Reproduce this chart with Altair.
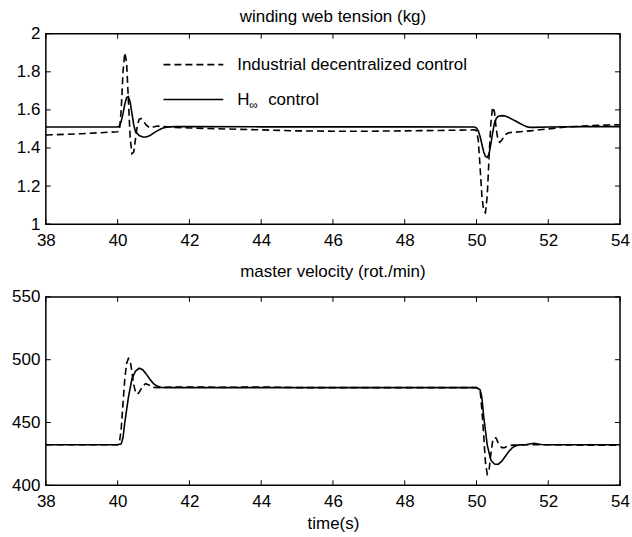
import altair as alt
import pandas as pd

FONT = "Liberation Sans"

# ---------------- data: winding web tension (kg) ----------------
t_ten_hinf = [38, 40.0, 40.05, 40.1, 40.15, 40.2, 40.25, 40.3, 40.35, 40.4, 40.45, 40.5,
              40.6, 40.7, 40.8, 40.9, 41.0, 41.1, 41.2, 41.3, 41.4, 41.6, 42, 44, 46, 48,
              49.95, 50.0, 50.05, 50.1, 50.15, 50.2, 50.25, 50.3, 50.35, 50.4, 50.45, 50.5,
              50.55, 50.6, 50.7, 50.8, 50.9, 51.0, 51.1, 51.2, 51.3, 51.4, 51.5, 51.6, 52, 53, 54]
v_ten_hinf = [1.51, 1.51, 1.515, 1.54, 1.58, 1.63, 1.665, 1.67, 1.64, 1.58, 1.52, 1.485,
              1.465, 1.458, 1.458, 1.465, 1.478, 1.49, 1.50, 1.507, 1.51, 1.512, 1.512, 1.511, 1.511, 1.511,
              1.51, 1.505, 1.49, 1.46, 1.42, 1.38, 1.355, 1.35, 1.37, 1.42, 1.48, 1.53,
              1.555, 1.565, 1.57, 1.568, 1.56, 1.55, 1.54, 1.53, 1.52, 1.512, 1.508, 1.508, 1.51, 1.512, 1.512]

t_ten_ind = [38, 39, 40.0, 40.05, 40.1, 40.15, 40.2, 40.25, 40.3, 40.35, 40.4, 40.45, 40.5,
             40.55, 40.6, 40.65, 40.7, 40.8, 40.9, 41.0, 41.1, 41.3, 41.6, 42, 43, 44, 45, 46,
             47, 48, 49, 49.95, 50.0, 50.05, 50.1, 50.15, 50.2, 50.25, 50.3, 50.35, 50.4, 50.45,
             50.5, 50.55, 50.6, 50.65, 50.7, 50.8, 50.9, 51.0, 51.2, 51.5, 52, 52.5, 53, 53.5, 54]
v_ten_ind = [1.468, 1.475, 1.485, 1.49, 1.6, 1.8, 1.9, 1.85, 1.65, 1.45, 1.37, 1.38, 1.45,
             1.52, 1.55, 1.555, 1.545, 1.52, 1.505, 1.51, 1.515, 1.513, 1.508, 1.505, 1.50, 1.495, 1.49, 1.488,
             1.488, 1.49, 1.492, 1.495, 1.49, 1.44, 1.30, 1.15, 1.07, 1.06, 1.15, 1.35, 1.53, 1.615,
             1.59, 1.50, 1.44, 1.43, 1.44, 1.47, 1.48, 1.482, 1.485, 1.49, 1.50, 1.51, 1.515, 1.52, 1.522]

# ---------------- data: master velocity (rot./min) ----------------
t_vel_hinf = [38, 40.0, 40.1, 40.15, 40.2, 40.3, 40.4, 40.5, 40.6, 40.7, 40.8, 40.9, 41.0,
              41.1, 41.2, 41.4, 42, 44, 46, 48, 50.0, 50.1, 50.15, 50.2, 50.3, 50.4, 50.5,
              50.6, 50.7, 50.8, 50.9, 51.0, 51.1, 51.2, 51.4, 51.6, 51.8, 52, 54]
v_vel_hinf = [432.3, 432.3, 433, 438, 450, 470, 485, 491, 493.2, 492, 488.5, 484.5, 481,
              479, 478, 477.8, 477.8, 477.8, 477.8, 477.8, 477.8, 476, 470, 455, 432, 420, 417,
              416.7, 419, 423, 427, 430, 431.5, 432.2, 432.5, 433.5, 432.5, 432.3, 432.3]

t_vel_ind = [38, 40.0, 40.05, 40.1, 40.15, 40.2, 40.25, 40.3, 40.35, 40.4, 40.45, 40.5, 40.55,
             40.6, 40.7, 40.78, 40.9, 41.0, 41.2, 41.5, 42, 43, 44, 45, 46, 48, 50.0, 50.1,
             50.15, 50.2, 50.25, 50.3, 50.35, 50.4, 50.45, 50.5, 50.55, 50.6, 50.7, 50.78,
             50.9, 51.0, 51.14, 51.5, 52, 53, 54]
v_vel_ind = [432.3, 432.3, 434, 445, 465, 485, 497, 501, 499, 490, 480, 474, 472.5,
             474, 479, 481, 479.5, 478, 477.8, 478.3, 478.3, 478.0, 478.3, 477.8, 477.8, 477.8, 477.8, 476,
             460, 440, 418, 409, 412, 425, 435, 438, 437.5, 434, 430, 430,
             431.5, 432, 432, 432.3, 432.3, 432.0, 432.0]

x_ticks = [38, 40, 42, 44, 46, 48, 50, 52, 54]
ten_ticks = [1.0, 1.2, 1.4, 1.6, 1.8, 2.0]
vel_ticks = [400, 450, 500, 550]

W = 576
H_TOP = 191
H_BOT = 189
TICK = 5


def panel(t_h, v_h, t_i, v_i, ydom, yticks, yfmt, height, xtitle=None):
    xscale = alt.Scale(domain=[38, 54], nice=False, zero=False)
    yscale = alt.Scale(domain=ydom, nice=False, zero=False)
    xaxis_args = dict(values=x_ticks, format="d", ticks=False, domain=False, grid=False,
                      labelPadding=8, labelFontSize=17, labelFont=FONT, labelColor="black",
                      labelOverlap=False, labelFlush=False, labelBound=False)
    if xtitle:
        xaxis_args.update(titleFontSize=17, titleFont=FONT, titleFontWeight="normal",
                          titlePadding=6, titleColor="black")
    xaxis = alt.Axis(**xaxis_args)
    yaxis = alt.Axis(values=yticks, format=yfmt, ticks=False, domain=False, grid=False,
                     labelPadding=6, labelFontSize=17, labelFont=FONT, labelColor="black",
                     labelOverlap=False, labelFlush=False, labelBound=False)
    xt = xtitle if xtitle else None

    def X(f):
        return alt.X(f, scale=xscale, axis=xaxis, title=xt)

    def Y(f):
        return alt.Y(f, scale=yscale, axis=yaxis, title=None)

    df_h = pd.DataFrame({"t": t_h, "v": v_h})
    df_i = pd.DataFrame({"t": t_i, "v": v_i})

    solid = alt.Chart(df_h).mark_line(color="black", strokeWidth=1.6).encode(
        x=X("t:Q"), y=Y("v:Q"), order="t:Q")
    dashed = alt.Chart(df_i).mark_line(color="black", strokeWidth=1.6,
                                       strokeDash=[7, 4]).encode(
        x=X("t:Q"), y=Y("v:Q"), order="t:Q")

    dfx = pd.DataFrame({"t": x_ticks})
    dfy = pd.DataFrame({"v": yticks})
    tick_b = alt.Chart(dfx).mark_rule(color="black", strokeWidth=1).encode(
        x=X("t:Q"), y=alt.value(height), y2=alt.value(height - TICK))
    tick_t = alt.Chart(dfx).mark_rule(color="black", strokeWidth=1).encode(
        x=X("t:Q"), y=alt.value(0), y2=alt.value(TICK))
    tick_l = alt.Chart(dfy).mark_rule(color="black", strokeWidth=1).encode(
        y=Y("v:Q"), x=alt.value(0), x2=alt.value(TICK))
    tick_r = alt.Chart(dfy).mark_rule(color="black", strokeWidth=1).encode(
        y=Y("v:Q"), x=alt.value(W), x2=alt.value(W - TICK))

    return [dashed, solid, tick_b, tick_t, tick_l, tick_r]


top_layers = panel(t_ten_hinf, v_ten_hinf, t_ten_ind, v_ten_ind, [1, 2], ten_ticks, ".1~f", H_TOP)

# legend (inside top panel)
leg_df = pd.DataFrame({"k": [0]})
leg_dash = alt.Chart(leg_df).mark_rule(color="black", strokeWidth=1.6, strokeDash=[7, 4]).encode(
    x=alt.value(118), x2=alt.value(178), y=alt.value(31))
leg_sol = alt.Chart(leg_df).mark_rule(color="black", strokeWidth=1.6).encode(
    x=alt.value(118), x2=alt.value(178), y=alt.value(66))
leg_t1 = alt.Chart(pd.DataFrame({"s": ["Industrial decentralized control"]})).mark_text(
    align="left", baseline="middle", fontSize=17, font=FONT, color="black").encode(
    x=alt.value(192), y=alt.value(31), text="s:N")
leg_t2 = alt.Chart(pd.DataFrame({"s": ["H"]})).mark_text(
    align="left", baseline="middle", fontSize=17, font=FONT, color="black").encode(
    x=alt.value(192), y=alt.value(66), text="s:N")
leg_t3 = alt.Chart(pd.DataFrame({"s": ["∞"]})).mark_text(
    align="left", baseline="middle", fontSize=12, font=FONT, color="black").encode(
    x=alt.value(204), y=alt.value(71), text="s:N")
leg_t4 = alt.Chart(pd.DataFrame({"s": ["control"]})).mark_text(
    align="left", baseline="middle", fontSize=17, font=FONT, color="black").encode(
    x=alt.value(223), y=alt.value(66), text="s:N")

title_top = dict(fontSize=17, font=FONT, fontWeight="normal", color="black", offset=-1, anchor="middle")
title_bot = dict(fontSize=17, font=FONT, fontWeight="normal", color="black", offset=7, anchor="middle")

top = alt.layer(*top_layers, leg_dash, leg_sol, leg_t1, leg_t2, leg_t3, leg_t4).properties(
    width=W, height=H_TOP,
    title=alt.TitleParams("winding web tension (kg)", **title_top))

bot_layers = panel(t_vel_hinf, v_vel_hinf, t_vel_ind, v_vel_ind, [400, 550], vel_ticks, "d",
                   H_BOT, xtitle="time(s)")
bot = alt.layer(*bot_layers).properties(
    width=W, height=H_BOT,
    title=alt.TitleParams("master velocity (rot./min)", **title_bot))

chart = alt.vconcat(top, bot, spacing=13).properties(
    padding={"left": 10, "top": 6, "right": 1, "bottom": 0},
    background="white",
).configure_view(stroke="black", strokeWidth=1.5).configure_axis(labelFont=FONT)

chart.save("out.html", embed_options={"renderer": "svg", "actions": False})
